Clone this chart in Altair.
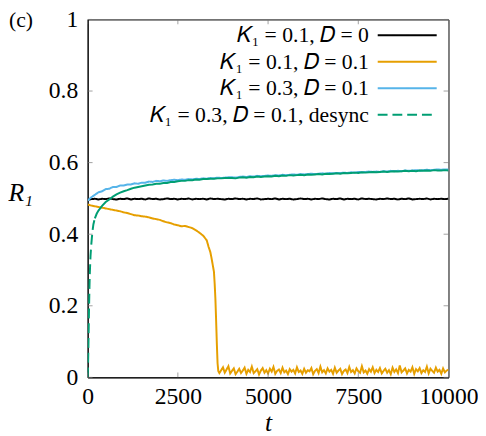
import altair as alt
import pandas as pd

SERIES = ["𝐾₁ = 0.1, 𝐷 = 0", "𝐾₁ = 0.1, 𝐷 = 0.1", "𝐾₁ = 0.3, 𝐷 = 0.1", "𝐾₁ = 0.3, 𝐷 = 0.1, desync"]
COLORS = ["#000000", "#E69F00", "#56B4E9", "#009E73"]
DASHES = [[1, 0], [1, 0], [1, 0], [10, 5]]

X_TICKS = [0, 2500, 5000, 7500, 10000]
Y_TICKS = [0, 0.2, 0.4, 0.6, 0.8, 1]

# K1=0.1, D=0
t_black = list(range(0, 10001, 100))
r_black = [
    0.496, 0.498, 0.499, 0.497, 0.499, 0.498, 0.500, 0.498, 0.497, 0.499,
    0.498, 0.500, 0.497, 0.499, 0.498, 0.499, 0.497, 0.500, 0.498, 0.499,
    0.497, 0.498, 0.500, 0.498, 0.499, 0.497, 0.499, 0.498, 0.500, 0.497,
    0.499, 0.498, 0.499, 0.497, 0.500, 0.498, 0.499, 0.498, 0.497, 0.499,
    0.498, 0.500, 0.498, 0.499, 0.497, 0.499, 0.498, 0.500, 0.497, 0.498,
    0.499, 0.498, 0.500, 0.497, 0.499, 0.498, 0.499, 0.497, 0.498, 0.500,
    0.498, 0.499, 0.497, 0.499, 0.498, 0.500, 0.498, 0.497, 0.499, 0.498,
    0.500, 0.497, 0.499, 0.498, 0.499, 0.497, 0.500, 0.498, 0.499, 0.498,
    0.497, 0.499, 0.498, 0.500, 0.498, 0.499, 0.497, 0.499, 0.498, 0.500,
    0.497, 0.498, 0.499, 0.498, 0.500, 0.497, 0.499, 0.498, 0.499, 0.498,
    0.499,
]

# K1=0.1, D=0.1
t_orange = (list(range(0, 3301, 100))
            + [3350, 3400, 3430, 3460, 3500, 3520, 3540, 3560, 3580, 3600, 3620, 3650]
            + list(range(3700, 10001, 50)))
r_orange = [
    0.483, 0.480, 0.478, 0.476, 0.474, 0.472, 0.470, 0.468, 0.466, 0.464,
    0.461, 0.459, 0.456, 0.453, 0.452, 0.450, 0.449, 0.447, 0.444, 0.442,
    0.440, 0.436, 0.433, 0.431, 0.427, 0.425, 0.422, 0.423, 0.420, 0.417,
    0.411, 0.404, 0.396, 0.383,
    0.365, 0.350, 0.335, 0.318, 0.295, 0.262, 0.220, 0.160, 0.095, 0.040, 0.018, 0.012,
    0.020, 0.028, 0.013, 0.022, 0.031, 0.011, 0.018, 0.025, 0.009, 0.016,
    0.024, 0.012, 0.019, 0.027, 0.010, 0.021, 0.015, 0.030, 0.012, 0.017,
    0.023, 0.008, 0.019, 0.026, 0.013, 0.020, 0.011, 0.024, 0.016, 0.029,
    0.010, 0.018, 0.022, 0.012, 0.027, 0.014, 0.019, 0.009, 0.023, 0.016,
    0.021, 0.011, 0.028, 0.015, 0.019, 0.010, 0.024, 0.013, 0.020, 0.017,
    0.026, 0.009, 0.018, 0.023, 0.012, 0.030, 0.014, 0.020, 0.011, 0.025,
    0.016, 0.021, 0.010, 0.027, 0.013, 0.019, 0.024, 0.009, 0.018, 0.022,
    0.012, 0.029, 0.015, 0.020, 0.011, 0.025, 0.017, 0.013, 0.031, 0.014,
    0.019, 0.010, 0.023, 0.016, 0.028, 0.012, 0.021, 0.015, 0.026, 0.011,
    0.018, 0.024, 0.013, 0.020, 0.009, 0.027, 0.015, 0.022, 0.012, 0.033,
    0.014, 0.019, 0.025, 0.011, 0.021, 0.016, 0.028, 0.010, 0.023, 0.017,
    0.026, 0.012, 0.020, 0.015, 0.030, 0.011, 0.024, 0.018, 0.013, 0.027,
    0.016, 0.021, 0.010, 0.025, 0.014, 0.019, 0.022,
]

# K1=0.3, D=0.1
t_blue = list(range(0, 10001, 100))
r_blue = [
    0.494, 0.503, 0.510, 0.517, 0.520, 0.526, 0.527, 0.532, 0.532, 0.536,
    0.536, 0.539, 0.539, 0.542, 0.541, 0.544, 0.544, 0.547, 0.546, 0.549,
    0.548, 0.550, 0.549, 0.551, 0.552, 0.551, 0.553, 0.552, 0.554, 0.553,
    0.555, 0.554, 0.556, 0.555, 0.557, 0.556, 0.558, 0.557, 0.558, 0.559,
    0.559, 0.558, 0.560, 0.561, 0.560, 0.562, 0.561, 0.563, 0.562, 0.563,
    0.564, 0.563, 0.565, 0.564, 0.566, 0.565, 0.566, 0.567, 0.566, 0.568,
    0.567, 0.568, 0.569, 0.568, 0.569, 0.570, 0.569, 0.571, 0.570, 0.571,
    0.571, 0.572, 0.571, 0.573, 0.572, 0.574, 0.573, 0.574, 0.575, 0.574,
    0.575, 0.574, 0.576, 0.575, 0.577, 0.576, 0.577, 0.576, 0.578, 0.577,
    0.578, 0.579, 0.578, 0.579, 0.580, 0.579, 0.580, 0.581, 0.580, 0.581,
    0.581,
]

# K1=0.3, D=0.1, desync
t_green = [0, 10, 20, 30, 40, 50, 60, 80, 100, 130, 160, 200, 250, 300] + list(range(400, 10001, 100))
r_green = [
    0.000, 0.030, 0.080, 0.140, 0.200, 0.250, 0.290, 0.340, 0.370, 0.405, 0.428, 0.444, 0.457, 0.466,
    0.479, 0.490, 0.497, 0.505, 0.511, 0.516,
    0.520, 0.523, 0.527, 0.530, 0.532, 0.534, 0.536, 0.538, 0.539, 0.541,
    0.541, 0.543, 0.543, 0.546, 0.546, 0.548, 0.549, 0.549, 0.551, 0.551,
    0.553, 0.552, 0.554, 0.554, 0.555, 0.555, 0.556, 0.556, 0.557, 0.557,
    0.557, 0.556, 0.558, 0.559, 0.558, 0.560, 0.559, 0.561, 0.560, 0.561,
    0.562, 0.561, 0.563, 0.562, 0.564, 0.563, 0.565, 0.564, 0.565, 0.566,
    0.565, 0.567, 0.566, 0.567, 0.568, 0.567, 0.569, 0.568, 0.569, 0.570,
    0.569, 0.571, 0.570, 0.571, 0.572, 0.571, 0.573, 0.572, 0.573, 0.574,
    0.573, 0.574, 0.575, 0.574, 0.575, 0.576, 0.575, 0.576, 0.577, 0.576,
    0.577, 0.576, 0.578, 0.577, 0.578, 0.577, 0.579, 0.578, 0.578, 0.579,
    0.578,
]
DASH_UNTIL = 200  # the desync curve is drawn dashed on its steep rise only

rows = []
for name, ts, rs in zip(SERIES, [t_black, t_orange, t_blue, t_green], [r_black, r_orange, r_blue, r_green]):
    for t, r in zip(ts, rs):
        rows.append({"series": name, "t": t, "R": r})
df = pd.DataFrame(rows)

FONT = "Liberation Serif"
W, H = 367, 364
GREEN = SERIES[3]

xscale = alt.Scale(domain=[0, 10000], nice=False, zero=False)
yscale = alt.Scale(domain=[0, 1], nice=False)

base = alt.Chart(df)

lines = base.transform_filter(
    (alt.datum.series != GREEN) | (alt.datum.t <= DASH_UNTIL)
).mark_line(strokeWidth=2, clip=True).encode(
    x=alt.X("t:Q", scale=xscale,
            axis=alt.Axis(values=X_TICKS, format="d", title="t", titleFontStyle="italic",
                          titleY=46, titleBaseline="middle", labelPadding=8, labelFlush=False)),
    y=alt.Y("R:Q", scale=yscale,
            axis=alt.Axis(values=Y_TICKS, format=".1~f", title="R₁", titleFontStyle="italic",
                          titleAngle=0, titleX=-81, titleY=176, titleAlign="left",
                          titleBaseline="middle", labelPadding=10, labelFlush=False)),
    color=alt.Color("series:N", scale=alt.Scale(domain=SERIES, range=COLORS), title=None,
                    legend=alt.Legend(orient="none", legendX=314, legendY=5, symbolType="M-3,0H3",
                                      symbolSize=400, symbolStrokeWidth=2, labelAlign="right",
                                      labelOffset={"expr": "-50"}, labelFont=FONT, labelFontSize=22,
                                      labelColor="black", rowPadding=5, padding=0,
                                      labelLimit=400)),
    strokeDash=alt.StrokeDash("series:N", scale=alt.Scale(domain=SERIES, range=DASHES), title=None),
    order=alt.Order("t:Q"),
)

green_solid = base.transform_filter(
    (alt.datum.series == GREEN) & (alt.datum.t >= DASH_UNTIL)
).mark_line(strokeWidth=2, clip=True, color=COLORS[3]).encode(
    x=alt.X("t:Q", scale=xscale),
    y=alt.Y("R:Q", scale=yscale),
    order=alt.Order("t:Q"),
)

xt = pd.DataFrame({"xt": X_TICKS})
yt = pd.DataFrame({"yt": Y_TICKS})
TICK_COLOR = "#777777"

bottom_ticks = alt.Chart(xt).mark_tick(orient="vertical", size=5, thickness=1, color=TICK_COLOR, yOffset=-2.5).encode(
    x=alt.X("xt:Q", scale=xscale), y=alt.datum(0))
top_ticks = alt.Chart(xt).mark_tick(orient="vertical", size=5, thickness=1, color=TICK_COLOR, yOffset=2.5).encode(
    x=alt.X("xt:Q", scale=xscale), y=alt.datum(1))
left_ticks = alt.Chart(yt).mark_tick(orient="horizontal", size=5, thickness=1, color=TICK_COLOR, xOffset=2.5).encode(
    y=alt.Y("yt:Q", scale=yscale), x=alt.datum(0))
right_ticks = alt.Chart(yt).mark_tick(orient="horizontal", size=5, thickness=1, color=TICK_COLOR, xOffset=-2.5).encode(
    y=alt.Y("yt:Q", scale=yscale), x=alt.datum(10000))

label = alt.Chart(pd.DataFrame({"s": ["(c)"]})).mark_text(
    font=FONT, fontSize=22, align="left", baseline="middle", color="black").encode(
    text="s:N", x=alt.value(-80), y=alt.value(1))

chart = alt.layer(lines, green_solid, bottom_ticks, top_ticks, left_ticks, right_ticks, label).properties(
    width=W, height=H,
    autosize=alt.AutoSizeParams(type="none"),
    padding={"left": 81, "top": 8, "right": 30, "bottom": 56},
).configure_axis(
    labelFont=FONT, labelFontSize=24, labelColor="black", titleFont=FONT, titleFontSize=26,
    titleColor="black", titleFontWeight="normal", tickSize=0, grid=False, domainColor="black",
    domainWidth=1,
).configure_view(stroke="black", strokeWidth=1)

chart.save("out.html", embed_options={"renderer": "svg", "actions": False})
